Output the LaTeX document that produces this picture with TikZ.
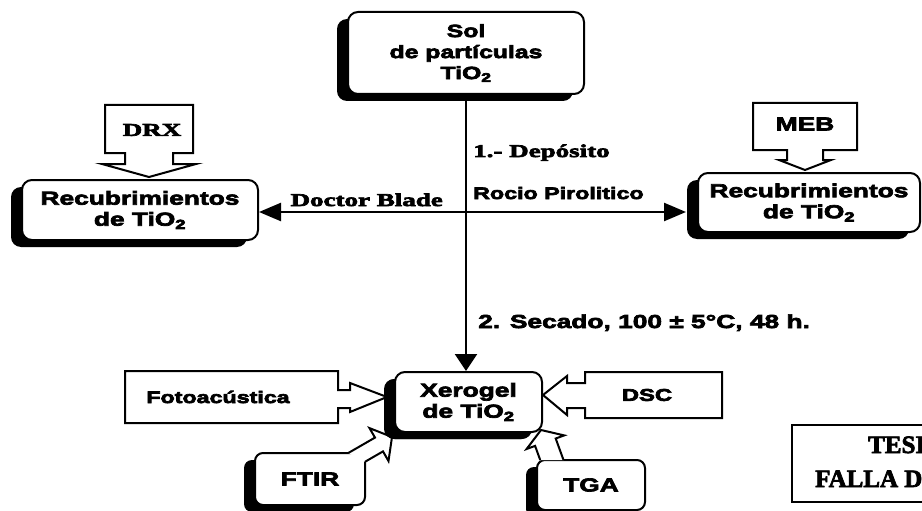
\documentclass[tikz,border=0pt]{standalone}
\usepackage{fontspec}
\usetikzlibrary{shadows,arrows.meta}
\newfontfamily\ssf[FakeStretch=1.4]{Liberation Sans Bold}
\newfontfamily\sff[FakeStretch=1.5]{Liberation Serif Bold}
\newfontfamily\stf{Liberation Serif Bold}
\newcommand\heavytext{\special{pdf:literal direct 2 Tr 0.7 w}}
\begin{document}
\begin{tikzpicture}[x=1pt,y=-1pt,
  shbox/.style={draw, line width=2pt, fill=white, rounded corners=10pt, align=center, inner sep=0pt,
     general shadow={fill=black, shadow xshift=-11pt, shadow yshift=-7pt}},
  cbox/.style={draw, line width=2pt, fill=white, line join=miter},
  bfs/.style={font=\ssf\fontsize{#1}{21}\selectfont\heavytext, inner sep=0pt},
  srf/.style={font=\sff\fontsize{#1}{22}\selectfont\heavytext, inner sep=0pt},
  conn/.style={line width=2.5pt},
  hd/.style={-{Triangle[length=22pt,width=18pt]}},
  vd/.style={-{Triangle[length=17pt,width=22pt]}}]
\useasboundingbox (0,0) rectangle (922,511);
\clip (0,0) rectangle (922,511);
\fill[white] (0,0) rectangle (922,511);

% callout DRX
\draw[cbox] (105,105) -- (193,105) -- (193,153) -- (173,153) -- (173,164) -- (196,164) -- (149,177) -- (102,164) -- (125,164) -- (125,153) -- (105,153) -- cycle;
\node[srf=18] (drx) at (152,130) {DRX};
% callout MEB
\draw[cbox] (753,103) -- (857,103) -- (857,150) -- (823,150) -- (823,160) -- (831,160) -- (805,170) -- (779,160) -- (787,160) -- (787,150) -- (753,150) -- cycle;
\node[bfs=18.8] (meb) at (805,124) {MEB};
% callout Fotoacustica
\draw[cbox] (125,371) -- (338,371) -- (338,390) -- (350,390) -- (350,383) -- (387,397) -- (350,412) -- (350,408) -- (338,408) -- (338,423) -- (125,423) -- cycle;
\node[bfs=16.6] (foto) at (218,397) {Fotoacústica};
% callout DSC
\draw[cbox] (722,372) -- (585,372) -- (585,383) -- (567,383) -- (567,376) -- (543,395) -- (567,415) -- (567,408) -- (585,408) -- (585,418) -- (722,418) -- cycle;
\node[bfs=17] (dsc) at (647,395) {DSC};

% FTIR and TGA
\node[shbox, rounded corners=8pt, bfs=18.8, minimum width=110pt, minimum height=52pt] (ftir) at (310,479) {FTIR};
\filldraw[fill=white, line width=2pt, line join=miter] (348.3,453) -- (375,437.6) -- (369.5,428.1) -- (392,437) -- (388.5,461) -- (383,451.4) -- (365,461.8);
\node[shbox, rounded corners=8pt, bfs=18.8, minimum width=108pt, minimum height=50pt] (tga) at (591,485) {TGA};
\filldraw[fill=white, line width=2pt, line join=miter] (540.2,460) -- (535.1,445.9) -- (526.6,449) -- (541,430) -- (564.2,435.4) -- (555.7,438.5) -- (563.5,460);

% main boxes
\node[shbox, bfs=17.7, minimum width=236pt, minimum height=82pt] (sol) at (466,53) {Sol\\de partículas\\TiO\textsubscript{2}};
\node[shbox, bfs=18.8, minimum width=236pt, minimum height=60pt] (lrec) at (140,210) {Recubrimientos\\de TiO\textsubscript{2}};
\node[shbox, bfs=18.8, minimum width=222pt, minimum height=59pt] (rrec) at (809,202.5) {Recubrimientos\\de TiO\textsubscript{2}};
\node[shbox, bfs=18.8, minimum width=147pt, minimum height=60pt, general shadow={fill=black, shadow xshift=-10pt, shadow yshift=-7pt}] (xer) at (468.5,402) {Xerogel\\de TiO\textsubscript{2}};

% connectors
\draw[conn, vd] (sol.south) -- (sol.south |- xer.north);
\coordinate (hx) at (466,212);
\coordinate (rw) at ([xshift=-11pt]rrec.west);
\draw[conn, hd] (hx) -- (lrec.east |- hx);
\draw[conn, hd] (hx) -- (rw |- hx);

% labels
\node[srf=18, anchor=base west] (dep) at (473,157) {1.- Depósito};
\node[bfs=16.6, anchor=base west] (rocio) at (473,199) {Rocio Pirolitico};
\node[srf=18, anchor=base east] (doctor) at (443,206) {Doctor Blade};
\node[bfs=18.8, anchor=base west] (secado) at (478,328) {2. Secado, 100 ± 5°C, 48 h.};

% stamp
\draw[line width=2pt] (792,425) rectangle (960,502);
\node[font=\stf\fontsize{25}{25}\selectfont\heavytext, anchor=base west, inner sep=0pt] (tesis) at (868,453) {TESIS CON};
\node[font=\stf\fontsize{25}{25}\selectfont\heavytext, anchor=base west, inner sep=0pt] (falla) at (815,487) {FALLA DE ORIGEN};
\end{tikzpicture}
\end{document}
